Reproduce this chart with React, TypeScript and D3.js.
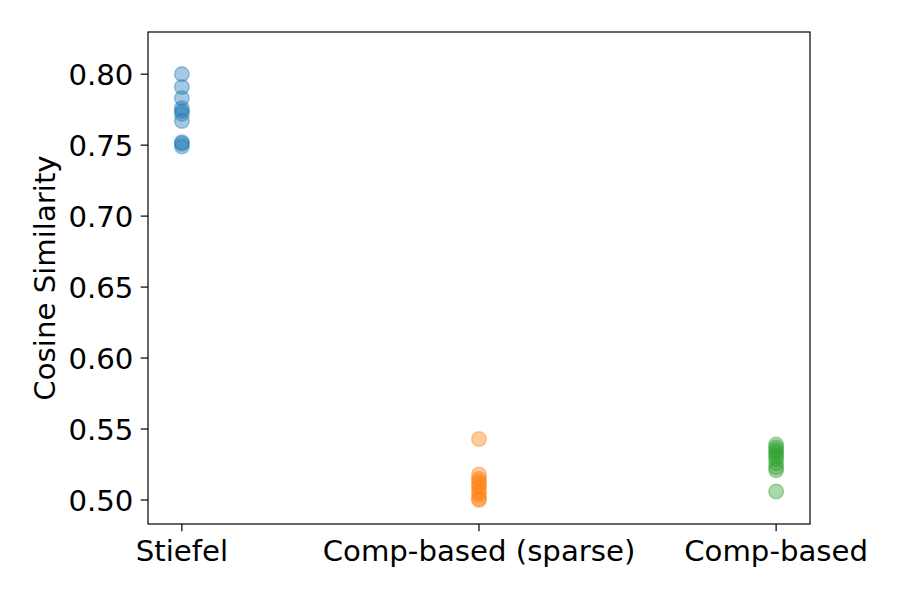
import React from "react";
import * as d3 from "d3";

const categories = ["Stiefel", "Comp-based (sparse)", "Comp-based"];
const colors = ["#1f77b4", "#ff7f0e", "#2ca02c"];
const stiefel = [0.800, 0.791, 0.783, 0.776, 0.774, 0.772, 0.767, 0.752, 0.751, 0.749];
const compSparse = [0.543, 0.518, 0.515, 0.513, 0.511, 0.509, 0.506, 0.504, 0.501, 0.500];
const compBased = [0.539, 0.537, 0.535, 0.533, 0.531, 0.529, 0.526, 0.523, 0.521, 0.506];
const yTicks = [0.5, 0.55, 0.6, 0.65, 0.7, 0.75, 0.8];

const W = 900, H = 600;
const left = 148, right = 810, top = 32, bottom = 524;

export default function App() {
  const x = d3.scaleLinear().domain([-0.114, 2.114]).range([left, right]);
  const y = d3.scaleLinear().domain([0.4831, 0.8297]).range([bottom, top]);
  const series = [stiefel, compSparse, compBased];
  const fs = 29.2;
  return (
    <svg width={W} height={H} style={{ position: "absolute", left: 0, top: 0, background: "#fff" }}
      fontFamily="DejaVu Sans, sans-serif">
      <rect x={0} y={0} width={W} height={H} fill="#fff" />
      {series.map((vals, i) =>
        vals.map((v, j) => (
          <circle key={`${i}-${j}`} cx={x(i)} cy={y(v)} r={7.3}
            fill={colors[i]} fillOpacity={0.4} stroke={colors[i]} strokeOpacity={0.4} strokeWidth={1.5} />
        ))
      )}
      <rect x={left} y={top} width={right - left} height={bottom - top} fill="none" stroke="#000" strokeWidth={1.2} />
      {yTicks.map((t) => (
        <g key={t}>
          <line x1={left - 7.3} x2={left} y1={y(t)} y2={y(t)} stroke="#000" strokeWidth={1.2} />
          <text x={left - 14.6} y={y(t)} dy="0.36em" textAnchor="end" fontSize={fs} fill="#000">
            {t.toFixed(2)}
          </text>
        </g>
      ))}
      {categories.map((c, i) => (
        <g key={c}>
          <line x1={x(i)} x2={x(i)} y1={bottom} y2={bottom + 7.3} stroke="#000" strokeWidth={1.2} />
          <text x={x(i)} y={bottom + 14.6} dy="0.76em" textAnchor="middle" fontSize={fs} fill="#000">
            {c}
          </text>
        </g>
      ))}
      <text transform={`translate(${55},${(top + bottom) / 2}) rotate(-90)`} textAnchor="middle" fontSize={fs} fill="#000">
        Cosine Similarity
      </text>
    </svg>
  );
}
